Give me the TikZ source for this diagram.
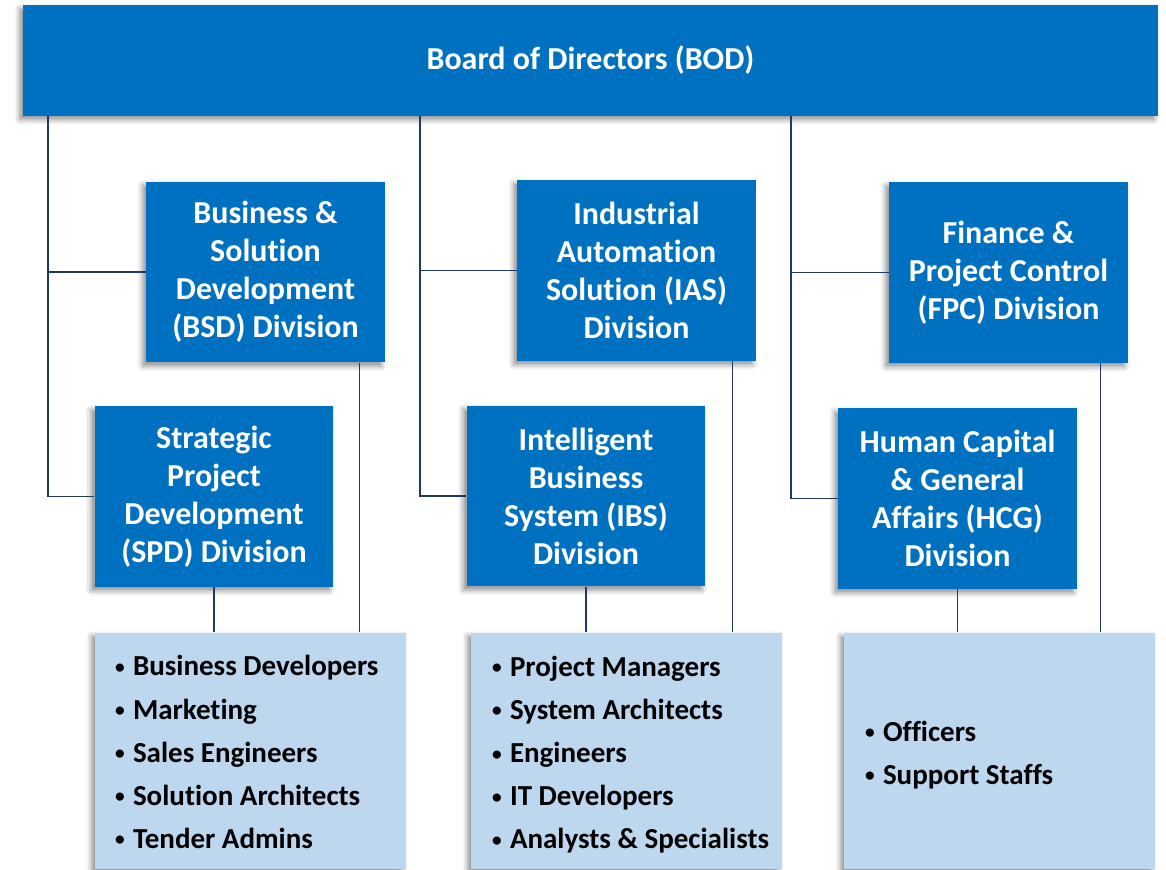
\documentclass[tikz,border=0pt]{standalone}
\usepackage{fontspec}
\setmainfont{Carlito}[Ligatures=NoCommon]
\usepackage{tikz}
\usetikzlibrary{shadows.blur}

\definecolor{divblue}{HTML}{0070C0}
\definecolor{listblue}{HTML}{BDD7EE}
\definecolor{linenavy}{HTML}{1F3864}

\newcommand{\bul}{\makebox[0.36cm][l]{\raisebox{0.1em}{\fontsize{11}{11}\selectfont\textbullet}}}

\begin{document}
\begin{tikzpicture}[x=0.02cm, y=-0.02cm,
                divbox/.style={fill=divblue, text=white, align=center, inner sep=0pt,
                    minimum width=4.78cm, minimum height=3.62cm, font=\bfseries\fontsize{18.2}{21.6}\selectfont,
                    blur shadow={shadow xshift=-2pt, shadow yshift=-2pt, shadow blur radius=3pt, shadow opacity=45}},
                listbox/.style={fill=listblue, inner sep=0pt, minimum width=6.22cm, minimum height=4.74cm,
                    blur shadow={shadow xshift=-2pt, shadow yshift=-2pt, shadow blur radius=3pt, shadow opacity=45}},
                listtext/.style={anchor=west, align=left, inner sep=0pt, text=black,
                    font=\bfseries\fontsize{16.5}{24.5}\selectfont},
                conn/.style={draw=linenavy, line width=0.8pt}]
                \useasboundingbox (0,0) rectangle (1166,869);
                \node[divbox, minimum width=22.7cm, minimum height=2.22cm] (bod) at (590.5,60.5) {Board of Directors (BOD)};
                \node[divbox] (bsd) at (265.5,272) {Business \&\\Solution\\Development\\(BSD) Division};
                \node[divbox] (spd) at (214,496.5) {Strategic\\Project\\Development\\(SPD) Division};
                \node[divbox] (ias) at (636.5,270.5) {Industrial\\Automation\\Solution (IAS)\\Division};
                \node[divbox] (ibs) at (586,496) {Intelligent\\Business\\System (IBS)\\Division};
                \node[divbox] (fpc) at (1008.5,272.5) {Finance \&\\Project Control\\(FPC) Division};
                \node[divbox] (hcg) at (957.5,498.5) {Human Capital\\\& General\\Affairs (HCG)\\Division};
                \node[listbox] (list1) at (250.5,751) {};
                \node[listbox] (list2) at (626.5,751) {};
                \node[listbox] (list3) at (999.5,751) {};
                \node[listtext] (list1text) at ([xshift=0.4cm, yshift=-0.02cm]list1.west) {\bul Business Developers\\\bul Marketing\\\bul Sales Engineers\\\bul Solution Architects\\\bul Tender Admins};
                \node[listtext] (list2text) at ([xshift=0.42cm, yshift=-0.08cm]list2.west) {\bul Project Managers\\\bul System Architects\\\bul Engineers\\\bul IT Developers\\\bul Analysts \& Specialists};
                \node[listtext] (list3text) at ([xshift=0.42cm, yshift=-0.08cm]list3.west) {\bul Officers\\\bul Support Staffs};
                \coordinate (trunk1) at (48,0);
                \coordinate (trunk2) at (420,0);
                \coordinate (trunk3) at (791,0);
                \draw[conn] (bod.south -| trunk1) |- (bsd.west);
                \draw[conn] (bod.south -| trunk1) |- (spd.west);
                \draw[conn] (bod.south -| trunk2) |- (ias.west);
                \draw[conn] (bod.south -| trunk2) |- (ibs.west);
                \draw[conn] (bod.south -| trunk3) |- (fpc.west);
                \draw[conn] (bod.south -| trunk3) |- (hcg.west);
                \draw[conn] (spd.south) -- (spd.south |- list1.north);
                \draw[conn] ([xshift=-0.52cm]bsd.south east) -- ([xshift=-0.52cm]bsd.south east |- list1.north);
                \draw[conn] (ibs.south) -- (ibs.south |- list2.north);
                \draw[conn] ([xshift=-0.48cm]ias.south east) -- ([xshift=-0.48cm]ias.south east |- list2.north);
                \draw[conn] (hcg.south) -- (hcg.south |- list3.north);
                \draw[conn] ([xshift=-0.56cm]fpc.south east) -- ([xshift=-0.56cm]fpc.south east |- list3.north);
              \end{tikzpicture}
\end{document}
